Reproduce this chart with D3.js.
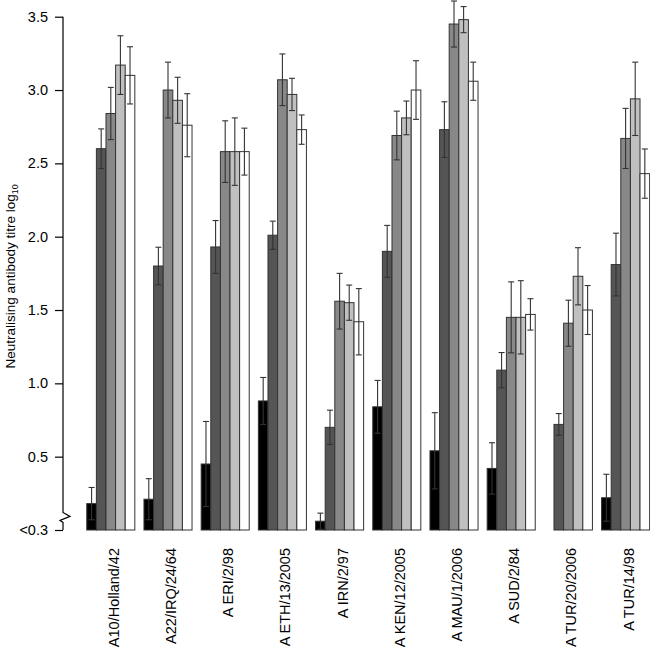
<!DOCTYPE html>
<html>
<head>
<meta charset="utf-8">
<script src="https://cdn.jsdelivr.net/npm/d3@7"></script>
<style>
  html, body { margin: 0; padding: 0; background: #fff; }
  svg { display: block; }
  text { font-family: "Liberation Sans", Arial, Helvetica, sans-serif; fill: #000; }
</style>
</head>
<body>
<svg id="chart" width="650" height="654"></svg>
<script>
// ---- data ----
const categories = ["A10/Holland/42", "A22/IRQ/24/64", "A ERI/2/98", "A ETH/13/2005", "A IRN/2/97",
                    "A KEN/12/2005", "A MAU/1/2006", "A SUD/2/84", "A TUR/20/2006", "A TUR/14/98"];
const seriesNames = ["Serum 1", "Serum 2", "Serum 3", "Serum 4", "Serum 5"];
const seriesColors = ["#000000", "#555555", "#888888", "#c0c0c0", "#ffffff"];

const series1 = [0.18, 0.21, 0.45, 0.88, 0.06, 0.84, 0.54, 0.42, 0.00, 0.22];
const series2 = [2.60, 1.80, 1.93, 2.01, 0.70, 1.90, 2.73, 1.09, 0.72, 1.81];
const series3 = [2.84, 3.00, 2.58, 3.07, 1.56, 2.69, 3.45, 1.45, 1.41, 2.67];
const series4 = [3.17, 2.93, 2.58, 2.97, 1.55, 2.81, 3.48, 1.45, 1.73, 2.94];
const series5 = [3.10, 2.76, 2.58, 2.73, 1.42, 3.00, 3.06, 1.47, 1.50, 2.43];

const err1 = [0.11, 0.14, 0.29, 0.16, 0.055, 0.18, 0.26, 0.175, 0.00, 0.16];
const err2 = [0.135, 0.128, 0.18, 0.096, 0.117, 0.177, 0.19, 0.12, 0.074, 0.214];
const err3 = [0.178, 0.19, 0.21, 0.176, 0.19, 0.166, 0.157, 0.242, 0.157, 0.205];
const err4 = [0.20, 0.157, 0.23, 0.11, 0.12, 0.115, 0.089, 0.25, 0.195, 0.25];
const err5 = [0.195, 0.215, 0.16, 0.10, 0.226, 0.20, 0.13, 0.107, 0.167, 0.168];

const tickValues = [0, 0.5, 1.0, 1.5, 2.0, 2.5, 3.0, 3.5];
const tickLabels = ["<0.3", "0.5", "1.0", "1.5", "2.0", "2.5", "3.0", "3.5"];
const yTitle = "Neutralising antibody titre log";
const yTitleSub = "10";

// ---- build ----
const values = [series1, series2, series3, series4, series5];
const errors = [err1, err2, err3, err4, err5];
const rows = [];
categories.forEach((c, i) => {
  seriesNames.forEach((s, j) => {
    rows.push({ cat: c, ser: s, idx: j, v: values[j][i], e: errors[j][i] });
  });
});

const svg = d3.select("#chart");

const y = d3.scaleLinear().domain([0, 3.5]).range([530, 16.7]);
const x = d3.scaleBand().domain(categories).range([82.2, 654.2]).paddingInner(0.16).paddingOuter(0.08);
const xs = d3.scaleBand().domain(seriesNames).range([0, x.bandwidth()]).padding(0);

// bars
const g = svg.append("g");
g.selectAll("rect.bar").data(rows).join("rect")
  .attr("class", "bar")
  .attr("x", d => x(d.cat) + xs(d.ser))
  .attr("width", xs.bandwidth())
  .attr("y", d => y(d.v))
  .attr("height", d => y(0) - y(d.v))
  .attr("fill", d => seriesColors[d.idx])
  .attr("stroke", "#333")
  .attr("stroke-width", 1);

// error bars
const capW = 3;
const eb = g.selectAll("g.err").data(rows.filter(d => d.e > 0)).join("g").attr("class", "err")
  .attr("stroke", "#333").attr("stroke-width", 1.1).attr("fill", "none");
eb.append("line")
  .attr("x1", d => x(d.cat) + xs(d.ser) + xs.bandwidth() / 2)
  .attr("x2", d => x(d.cat) + xs(d.ser) + xs.bandwidth() / 2)
  .attr("y1", d => y(d.v + d.e))
  .attr("y2", d => y(Math.max(0, d.v - d.e)));
eb.append("line")
  .attr("x1", d => x(d.cat) + xs(d.ser) + xs.bandwidth() / 2 - capW)
  .attr("x2", d => x(d.cat) + xs(d.ser) + xs.bandwidth() / 2 + capW)
  .attr("y1", d => y(d.v + d.e))
  .attr("y2", d => y(d.v + d.e));
eb.filter(d => d.v - d.e > 0).append("line")
  .attr("x1", d => x(d.cat) + xs(d.ser) + xs.bandwidth() / 2 - capW)
  .attr("x2", d => x(d.cat) + xs(d.ser) + xs.bandwidth() / 2 + capW)
  .attr("y1", d => y(d.v - d.e))
  .attr("y2", d => y(d.v - d.e));

// y axis
const axisX = 63;
const yAxis = d3.axisLeft(y).tickValues(tickValues)
  .tickFormat((d, i) => tickLabels[i]).tickSize(8).tickPadding(7);
const ga = svg.append("g").attr("transform", `translate(${axisX},0)`).call(yAxis);
ga.select(".domain").remove();
ga.selectAll(".tick line").attr("stroke", "#000").attr("stroke-width", 1.2);
ga.selectAll(".tick text").style("font-size", "14.5px").attr("fill", "#000")
  .style("font-family", '"Liberation Sans", Arial, sans-serif');

// axis line with break
const brk = y(0.12);
const axisPath = d3.path();
axisPath.moveTo(axisX, y(3.5));
axisPath.lineTo(axisX, brk);
axisPath.lineTo(axisX + 7, brk + 4);
axisPath.lineTo(axisX - 3, brk + 8);
axisPath.lineTo(axisX, brk + 10);
axisPath.lineTo(axisX, y(0));
svg.append("path").attr("d", axisPath.toString())
  .attr("fill", "none").attr("stroke", "#000").attr("stroke-width", 1.2);

// y title
const t = svg.append("text")
  .attr("transform", `translate(15,${(y(0) + y(3.5)) / 2 + 3}) rotate(-90)`)
  .attr("text-anchor", "middle")
  .style("font-size", "13.5px");
t.append("tspan").text(yTitle);
t.append("tspan").text(yTitleSub).attr("dy", 3).style("font-size", "9px");

// x labels
svg.append("g").selectAll("text").data(categories).join("text")
  .attr("transform", d => `translate(${x(d) + x.bandwidth() / 2 + 8},548) rotate(-90)`)
  .attr("text-anchor", "end")
  .style("font-size", "14.5px")
  .text(d => d);
</script>
</body>
</html>
